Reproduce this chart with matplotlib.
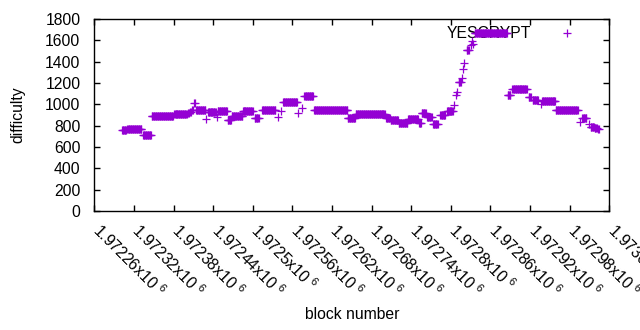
import numpy as np
import matplotlib
matplotlib.use("Agg")
import matplotlib.pyplot as plt
from matplotlib.transforms import ScaledTranslation

# Runs of consecutive blocks sharing one difficulty value
seg_start = [1972302, 1972310, 1972320, 1972334, 1972347, 1972381, 1972402, 1972405,
             1972408, 1972411, 1972414, 1972429, 1972432, 1972446, 1972447, 1972462,
             1972468, 1972485, 1972503, 1972514, 1972538, 1972543, 1972546, 1972568,
             1972575, 1972578, 1972593, 1972644, 1972656, 1972702, 1972709, 1972721,
             1972735, 1972752, 1972756, 1972764, 1972773, 1972784, 1972794, 1972805,
             1972808, 1972809, 1972812, 1972817, 1972818, 1972820, 1972824, 1972830,
             1972832, 1972833, 1972836, 1972886, 1972893, 1972918, 1972924, 1972936,
             1972938, 1972959, 1972996, 1972999, 1973009, 1973012, 1973018, 1973023]
seg_end = [1972308, 1972319, 1972331, 1972346, 1972379, 1972400, 1972403, 1972406,
           1972409, 1972412, 1972428, 1972429, 1972444, 1972446, 1972461, 1972467,
           1972484, 1972500, 1972509, 1972534, 1972538, 1972543, 1972567, 1972568,
           1972575, 1972591, 1972643, 1972655, 1972700, 1972708, 1972720, 1972734,
           1972750, 1972755, 1972762, 1972771, 1972780, 1972791, 1972803, 1972805,
           1972808, 1972809, 1972815, 1972817, 1972818, 1972820, 1972827, 1972830,
           1972832, 1972833, 1972885, 1972890, 1972915, 1972921, 1972932, 1972936,
           1972958, 1972992, 1972996, 1973005, 1973009, 1973017, 1973021, 1973024]
seg_value = [762, 773, 765, 712, 890, 906, 915, 928,
             945, 1010, 944, 866, 925, 878, 937, 853,
             887, 937, 875, 947, 878, 937, 1022, 916,
             963, 1078, 947, 869, 910, 872, 850, 822,
             862, 828, 919, 881, 816, 903, 940, 994,
             1088, 1119, 1210, 1244, 1328, 1391, 1506, 1556,
             1597, 1566, 1666, 1088, 1141, 1066, 1038, 1000,
             1031, 944, 834, 869, 812, 791, 775, 766]

series_name = "YESCRYPT"
x_ticks = list(range(1972260, 1973041, 60))
x_tick_labels = ["1.97226", "1.97232", "1.97238", "1.97244", "1.9725", "1.97256",
                 "1.97262", "1.97268", "1.97274", "1.9728", "1.97286", "1.97292",
                 "1.97298", "1.97304"]
y_ticks = list(range(0, 1801, 200))

blocks = np.concatenate([np.arange(s, e + 1) for s, e in zip(seg_start, seg_end)])
diffs = np.concatenate([np.full(e - s + 1, v) for s, e, v in zip(seg_start, seg_end, seg_value)])

plt.rcParams['font.family'] = ['Liberation Sans', 'DejaVu Sans']
plt.rcParams['mathtext.fontset'] = 'custom'
plt.rcParams['mathtext.rm'] = 'Liberation Sans'
fs = 11.3

fig = plt.figure(figsize=(6.4, 3.3), dpi=100)
ax = fig.add_axes([94.3 / 640, 1 - 211 / 330, 515 / 640, 192 / 330])
color = '#9400d3'
ax.plot(blocks, diffs, linestyle='none', marker='+', markersize=5.2,
        markeredgewidth=0.9, color=color, label=series_name, zorder=3)

ax.set_xlim(1972260, 1973040)
ax.set_ylim(0, 1800)
ax.set_xticks(x_ticks)
ax.set_xticklabels([t + r"x10 $^{6}$" for t in x_tick_labels], rotation=-45,
                   ha='left', va='top', rotation_mode='anchor', fontsize=fs)
ax.set_yticks(y_ticks)
ax.set_yticklabels([str(v) for v in y_ticks], fontsize=fs)
ax.tick_params(direction='in', top=True, right=True, length=4, width=1, pad=10)
ax.tick_params(axis='x', pad=8)
for sp in ax.spines.values():
    sp.set_linewidth(1)

offset = ScaledTranslation(8 / 100, 2 / 100, fig.dpi_scale_trans)
for lbl in ax.get_xticklabels():
    lbl.set_transform(lbl.get_transform() + offset)

ax.set_xlabel("block number", fontsize=fs)
ax.set_ylabel("difficulty", fontsize=fs)
ax.xaxis.set_label_coords(0.5, -(307 - 211) / 192)
ax.yaxis.set_label_coords(-(94.3 - 25) / 515, 0.5)

leg = ax.legend(loc='upper right', bbox_to_anchor=(0.948, 0.962), markerfirst=False,
                frameon=False, fontsize=fs, handlelength=2.0, handletextpad=1.25,
                borderaxespad=0, borderpad=0)
leg.set_zorder(1)

fig.savefig("out.png", dpi=100)
